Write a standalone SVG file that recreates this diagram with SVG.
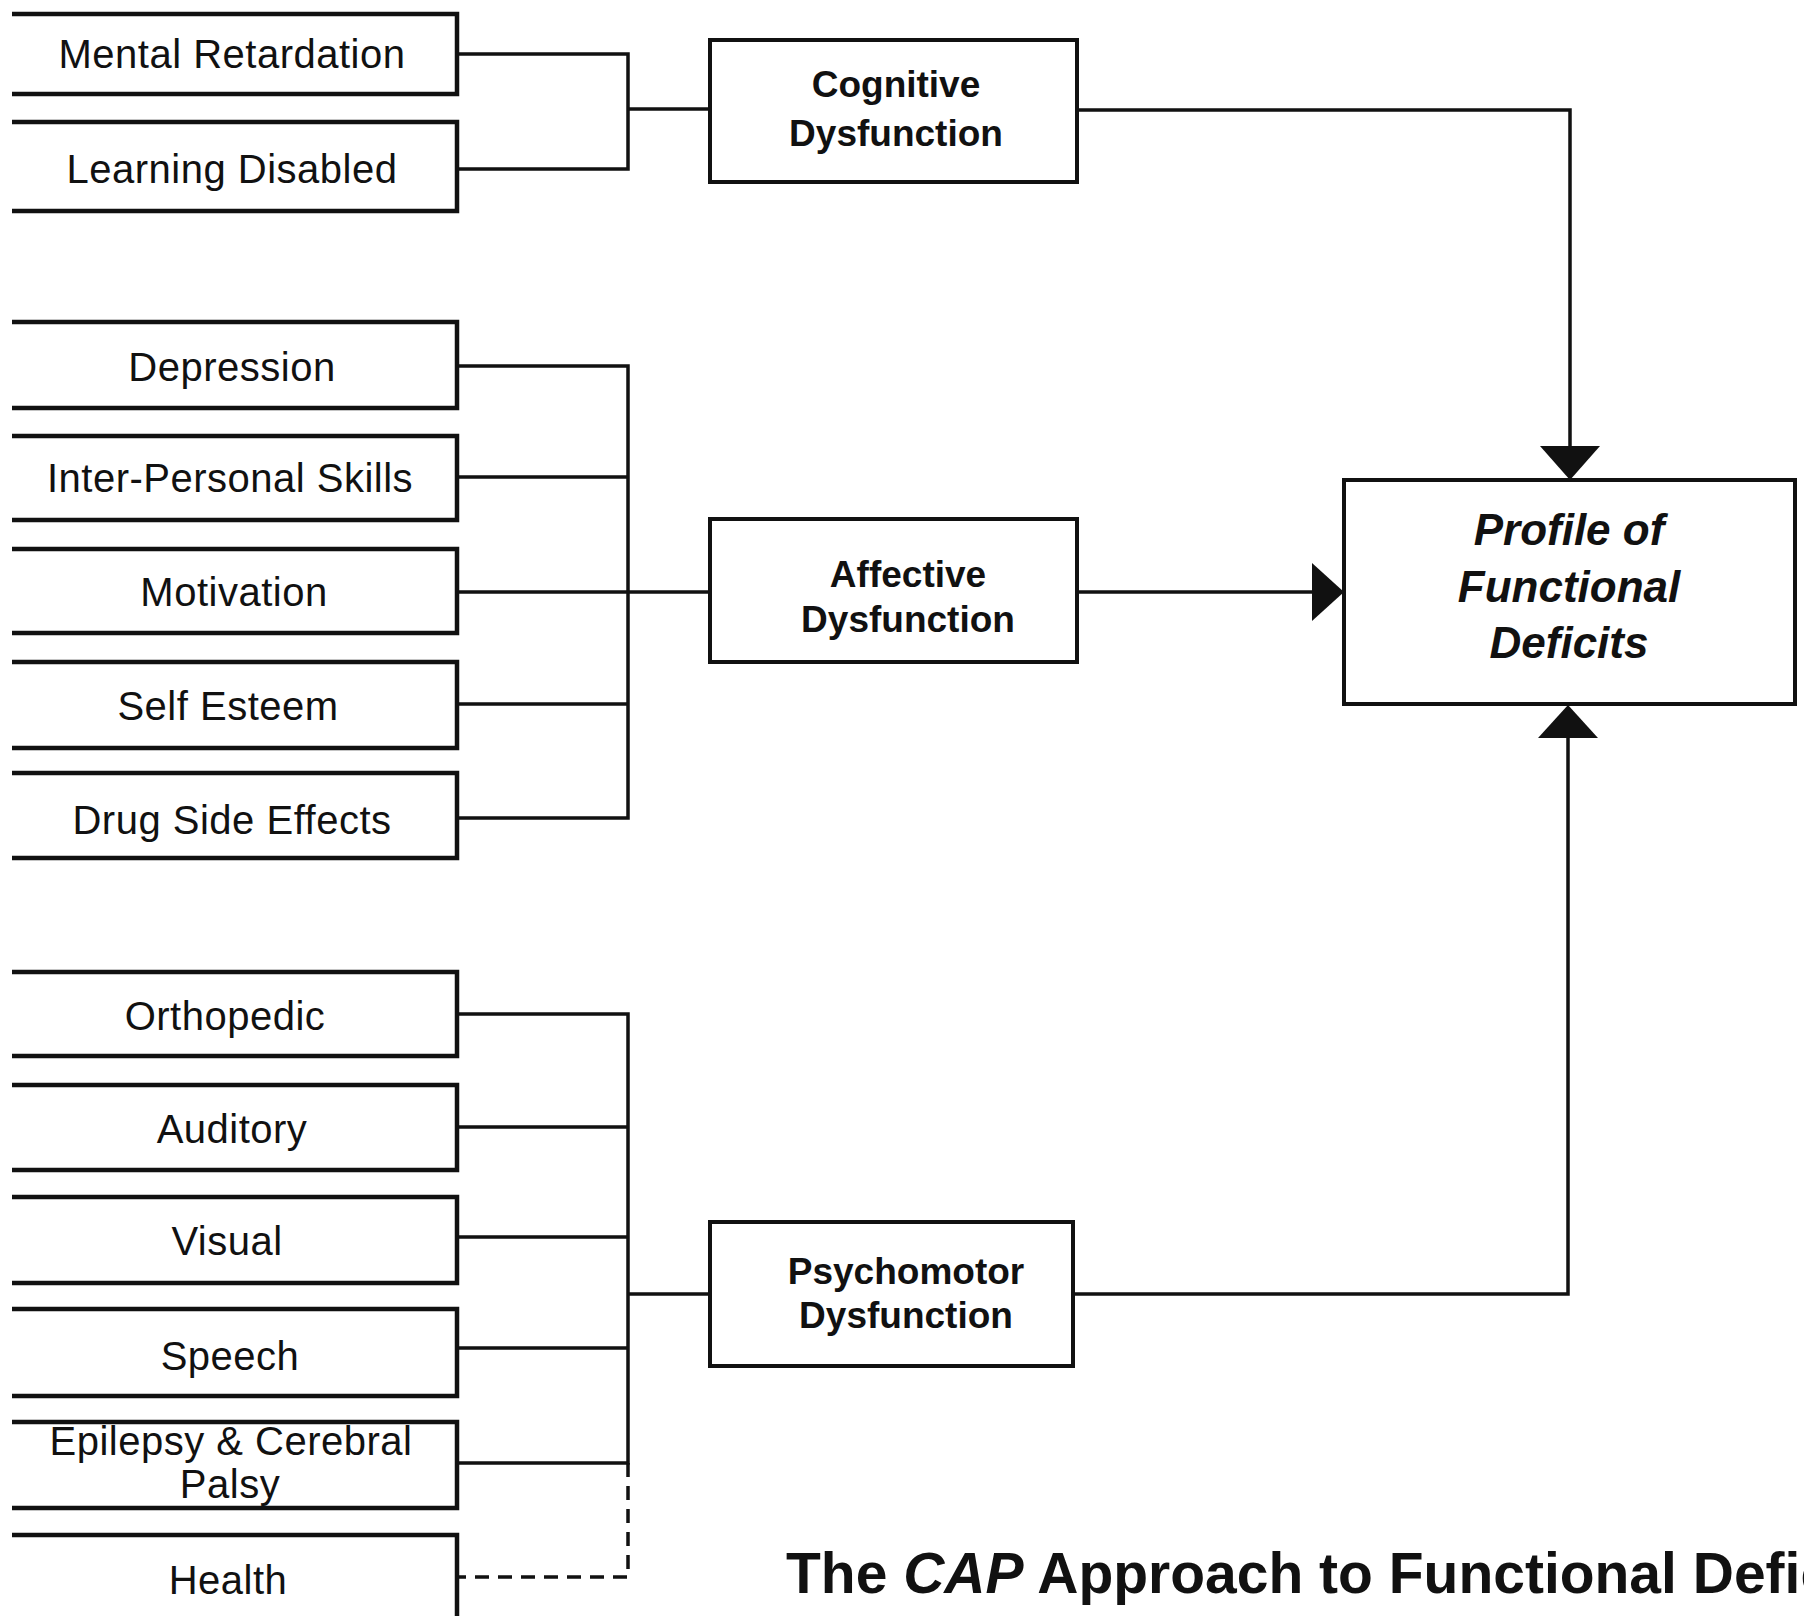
<svg xmlns="http://www.w3.org/2000/svg" width="1804" height="1618" viewBox="0 0 1804 1618">
<style>
.lbox{fill:none;stroke:#111;stroke-width:4.5;stroke-linejoin:miter}
.cbox{fill:#fff;stroke:#111;stroke-width:4}
.ln{fill:none;stroke:#111;stroke-width:3.5}
.dash{fill:none;stroke:#111;stroke-width:3.5;stroke-dasharray:14 9}
.lt{font-family:"Liberation Sans",Arial,sans-serif;font-size:40px;fill:#111;text-anchor:middle;letter-spacing:0.5px}
.ct{font-family:"Liberation Sans",Arial,sans-serif;font-size:37px;font-weight:bold;fill:#111;text-anchor:middle}
.pt{font-family:"Liberation Sans",Arial,sans-serif;font-size:44px;font-weight:bold;font-style:italic;fill:#111;text-anchor:middle}
.tt{font-family:"Liberation Sans",Arial,sans-serif;font-size:57px;font-weight:bold;fill:#111}
</style>
<rect width="1804" height="1618" fill="#fff"/>

<g id="connectors">
<path class="ln" d="M457,54 H628 V169 H457"/>
<path class="ln" d="M628,109 H710"/>
<path class="ln" d="M457,366 H628 V818 H457 M457,477 H628 M457,592 H710 M457,704 H628"/>
<path class="ln" d="M457,1014 H628 V1463 H457 M457,1127 H628 M457,1237 H628 M457,1348 H628 M628,1294 H710"/>
<path class="dash" d="M628,1463 V1577 H457"/>
<path class="ln" d="M1077,110 H1570 V450"/>
<path d="M1540,446 L1600,446 L1570,480 Z" fill="#111"/>
<path class="ln" d="M1077,592 H1316"/>
<path d="M1312,563 L1312,621 L1344,592 Z" fill="#111"/>
<path class="ln" d="M1073,1294 H1568 V734"/>
<path d="M1538,738 L1598,738 L1568,705 Z" fill="#111"/>
</g>

<g id="n-mental-retardation"><path class="lbox" d="M12,14 H457 V94 H12"/><text class="lt" x="232" y="68">Mental Retardation</text></g>
<g id="n-learning-disabled"><path class="lbox" d="M12,122 H457 V211 H12"/><text class="lt" x="232" y="183">Learning Disabled</text></g>

<g id="n-depression"><path class="lbox" d="M12,322 H457 V408 H12"/><text class="lt" x="232" y="381">Depression</text></g>
<g id="n-interpersonal"><path class="lbox" d="M12,436 H457 V520 H12"/><text class="lt" x="230" y="492">Inter-Personal Skills</text></g>
<g id="n-motivation"><path class="lbox" d="M12,549 H457 V633 H12"/><text class="lt" x="234" y="606">Motivation</text></g>
<g id="n-self-esteem"><path class="lbox" d="M12,662 H457 V748 H12"/><text class="lt" x="228" y="720">Self Esteem</text></g>
<g id="n-drug"><path class="lbox" d="M12,773 H457 V858 H12"/><text class="lt" x="232" y="834">Drug Side Effects</text></g>

<g id="n-orthopedic"><path class="lbox" d="M12,972 H457 V1056 H12"/><text class="lt" x="225" y="1030">Orthopedic</text></g>
<g id="n-auditory"><path class="lbox" d="M12,1085 H457 V1170 H12"/><text class="lt" x="232" y="1143">Auditory</text></g>
<g id="n-visual"><path class="lbox" d="M12,1197 H457 V1283 H12"/><text class="lt" x="227" y="1255">Visual</text></g>
<g id="n-speech"><path class="lbox" d="M12,1309 H457 V1396 H12"/><text class="lt" x="230" y="1370">Speech</text></g>
<g id="n-epilepsy"><path class="lbox" d="M12,1422 H457 V1508 H12"/><text class="lt" x="231" y="1455" font-size="38">Epilepsy &amp; Cerebral</text><text class="lt" x="230" y="1498" font-size="38">Palsy</text></g>
<g id="n-health"><path class="lbox" d="M12,1535 H457 V1616"/><text class="lt" x="228" y="1594">Health</text></g>

<g id="n-cognitive"><rect class="cbox" x="710" y="40" width="367" height="142"/><text class="ct" x="896" y="97">Cognitive</text><text class="ct" x="896" y="146">Dysfunction</text></g>
<g id="n-affective"><rect class="cbox" x="710" y="519" width="367" height="143"/><text class="ct" x="908" y="587">Affective</text><text class="ct" x="908" y="632">Dysfunction</text></g>
<g id="n-psychomotor"><rect class="cbox" x="710" y="1222" width="363" height="144"/><text class="ct" x="906" y="1284">Psychomotor</text><text class="ct" x="906" y="1328">Dysfunction</text></g>

<g id="n-profile"><rect class="cbox" x="1344" y="480" width="451" height="224"/><text class="pt" x="1569" y="545">Profile of</text><text class="pt" x="1569" y="602">Functional</text><text class="pt" x="1569" y="658">Deficits</text></g>

<text class="tt" x="786" y="1593">The <tspan font-style="italic">CAP</tspan> Approach to Functional Deficits</text>
</svg>
